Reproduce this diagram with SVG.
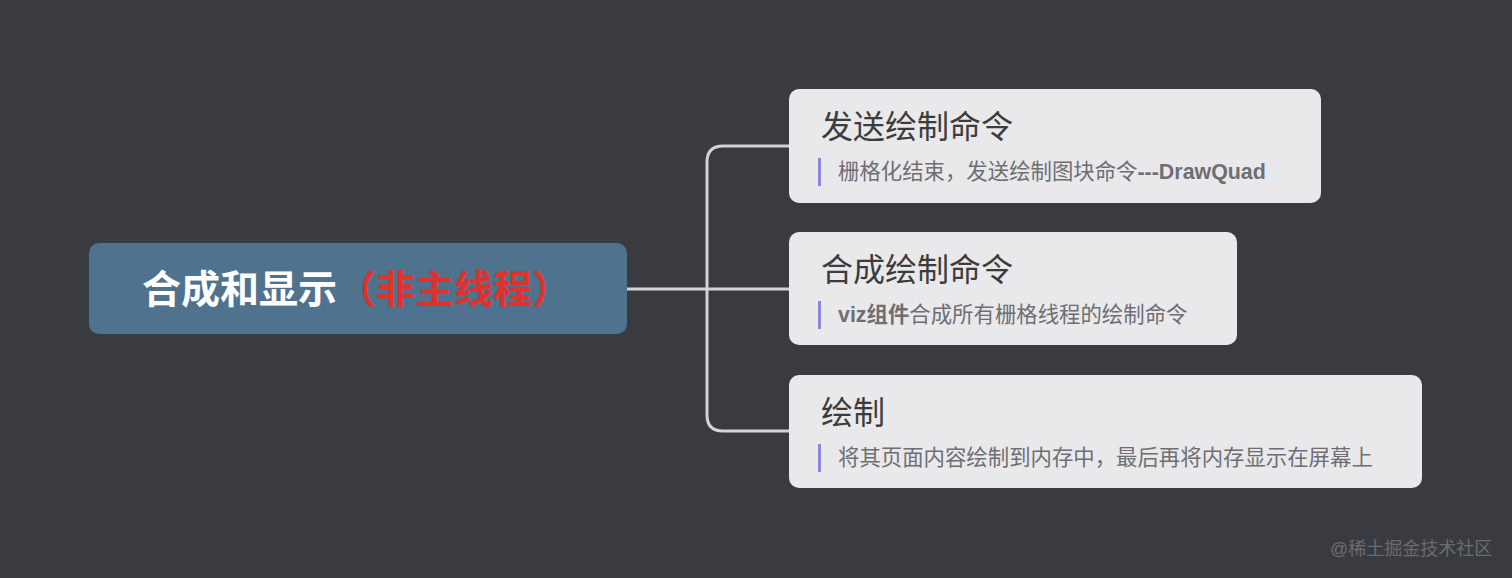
<svg xmlns="http://www.w3.org/2000/svg" width="1512" height="578" viewBox="0 0 1512 578">
<style>
text{font-family:"Liberation Sans","Noto Sans CJK SC",sans-serif}
.card{fill:#e9e9eb}
.title{font-size:32px;fill:#3c3c3e}
.sub{font-size:21.4px;fill:#6e6e73}
.bar{fill:#8b86e0}
.conn{fill:none;stroke:#d4d4d6;stroke-width:3}
</style>
<rect width="1512" height="578" fill="#3a3b40"/>
<g id="connectors">
<path class="conn" d="M627 289 H789"/>
<path class="conn" d="M789 146 H723 Q707 146 707 162 V415 Q707 431 723 431 H789"/>
</g>
<g id="root">
<rect x="89" y="243" width="538" height="91" rx="10" fill="#4f728e"/>
<text x="142" y="303" font-size="39" font-weight="bold" fill="#ffffff">合成和显示<tspan fill="#e0322b">（非主线程）</tspan></text>
</g>
<g id="node1">
<rect class="card" x="789" y="89" width="532" height="114" rx="10"/>
<text class="title" x="821" y="138">发送绘制命令</text>
<rect class="bar" x="818" y="158" width="3" height="28"/>
<text class="sub" x="838" y="179">栅格化结束，发送绘制图块命令<tspan font-weight="bold">---DrawQuad</tspan></text>
</g>
<g id="node2">
<rect class="card" x="789" y="232" width="448" height="113" rx="10"/>
<text class="title" x="821" y="281">合成绘制命令</text>
<rect class="bar" x="818" y="301" width="3" height="28"/>
<text class="sub" x="838" y="322"><tspan font-weight="bold">viz组件</tspan>合成所有栅格线程的绘制命令</text>
</g>
<g id="node3">
<rect class="card" x="789" y="375" width="633" height="113" rx="10"/>
<text class="title" x="821" y="424">绘制</text>
<rect class="bar" x="818" y="444" width="3" height="28"/>
<text class="sub" x="838" y="465">将其页面内容绘制到内存中，最后再将内存显示在屏幕上</text>
</g>
<text x="1330" y="555" font-size="18" fill="#6a6b70">@稀土掘金技术社区</text>
</svg>
